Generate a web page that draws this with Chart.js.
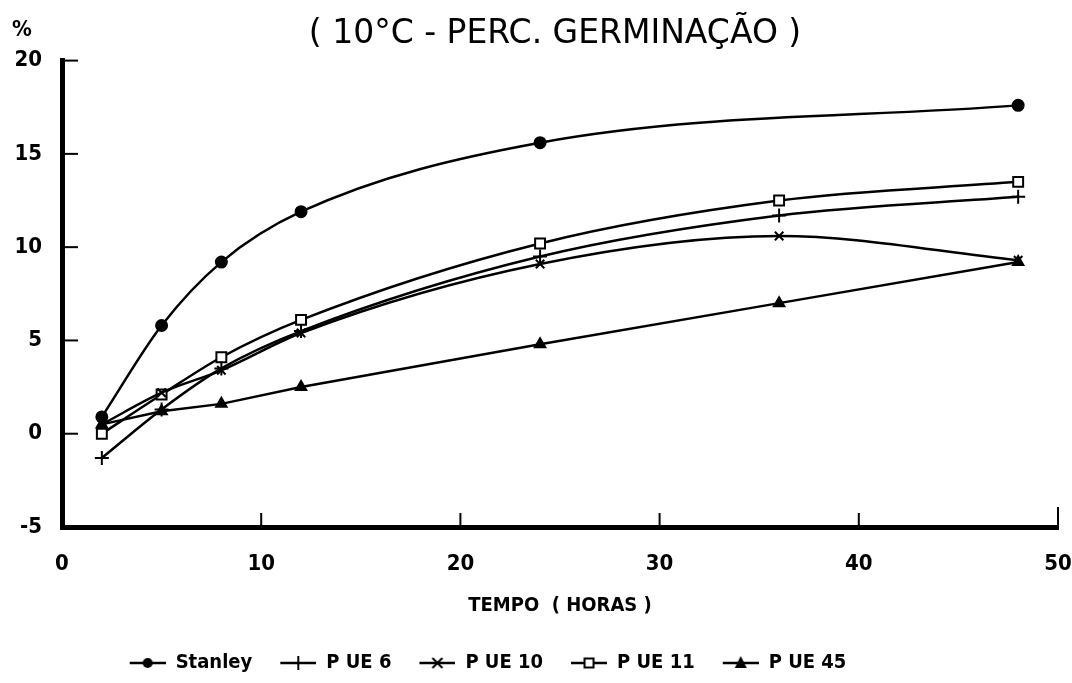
<!DOCTYPE html>
<html>
<head>
<meta charset="utf-8">
<script src="https://cdn.jsdelivr.net/npm/chart.js@4.4.0/dist/chart.umd.min.js"></script>
<style>
  html, body { margin: 0; padding: 0; background: #fff; }
</style>
</head>
<body>
<canvas id="germChart" width="1072" height="683"></canvas>
<script>
// Tempo (horas)
const horas = [2, 5, 8, 12, 24, 36, 48];

// Germinacao (%) por cultivar
const stanley = [0.9, 5.8, 9.2, 11.9, 15.6, null, 17.6];
const pue6 = [-1.3, 1.3, 3.5, 5.5, 9.5, 11.7, 12.7];
const pue10 = [0.5, 2.2, 3.4, 5.4, 9.1, 10.6, 9.3];
const pue11 = [0.0, 2.1, 4.1, 6.1, 10.2, 12.5, 13.5];
const pue45 = [0.5, 1.2, 1.6, 2.5, 4.8, 7.0, 9.2];

const xTicks = [0, 10, 20, 30, 40, 50];
const yTicks = [-5, 0, 5, 10, 15, 20];

const FONT = "'Liberation Sans Narrow', 'DejaVu Sans Condensed', sans-serif";

function pts(arr) {
    return horas.map((h, i) => ({ x: h, y: arr[i] }));
}

// legend symbol: line with marker in the middle
function legendIcon(style) {
    const c = document.createElement('canvas');
    c.width = 54; c.height = 18;
    const g = c.getContext('2d');
    g.strokeStyle = '#000';
    g.fillStyle = '#000';
    g.lineWidth = 2.5;
    g.beginPath(); g.moveTo(18, 9); g.lineTo(54, 9); g.stroke();
    const cx = 36, cy = 9;
    g.lineWidth = 2;
    g.beginPath();
    if (style === 'circle') {
        g.arc(cx, cy, 5, 0, Math.PI * 2); g.fill();
    } else if (style === 'cross') {
        g.moveTo(cx, cy - 7); g.lineTo(cx, cy + 7); g.stroke();
    } else if (style === 'crossRot') {
        g.moveTo(cx - 5, cy - 5); g.lineTo(cx + 5, cy + 5);
        g.moveTo(cx + 5, cy - 5); g.lineTo(cx - 5, cy + 5); g.stroke();
    } else if (style === 'rect') {
        g.fillStyle = '#fff';
        g.rect(cx - 4.5, cy - 4.5, 9, 9); g.fill(); g.stroke();
    } else if (style === 'triangle') {
        g.moveTo(cx, cy - 7); g.lineTo(cx + 6, cy + 5); g.lineTo(cx - 6, cy + 5);
        g.closePath(); g.fill();
    }
    return c;
}

function serie(label, arr, style, radius, smooth, fill) {
    return {
        label: label,
        data: pts(arr),
        borderColor: '#000',
        borderWidth: 2.5,
        pointStyle: style,
        pointRadius: radius,
        pointBorderWidth: 2,
        pointBorderColor: '#000',
        pointBackgroundColor: fill,
        cubicInterpolationMode: smooth ? 'monotone' : 'default',
        tension: 0,
        spanGaps: true,
        fill: false
    };
}

const styles = ['circle', 'cross', 'crossRot', 'rect', 'triangle'];
const icons = styles.map(legendIcon);

// inward ticks, % label, legend/title nudge
const extras = {
    id: 'extras',
    afterLayout(chart) {
        chart.legend.right -= 100;
        chart.titleBlock.left += 26;
        chart.titleBlock.right += 26;
    },
    afterDraw(chart) {
        const { ctx, scales: { x, y } } = chart;
        ctx.save();
        ctx.strokeStyle = '#000';
        ctx.lineWidth = 2;
        const x0 = x.getPixelForValue(0);
        const yb = y.getPixelForValue(-5);
        xTicks.slice(1).forEach(v => {
            const px = x.getPixelForValue(v);
            ctx.beginPath();
            ctx.moveTo(px, yb);
            ctx.lineTo(px, yb - (v === 50 ? 20 : 14));
            ctx.stroke();
        });
        yTicks.slice(1).forEach(v => {
            const py = y.getPixelForValue(v);
            ctx.beginPath();
            ctx.moveTo(x0, py);
            ctx.lineTo(x0 + 16, py);
            ctx.stroke();
        });
        ctx.fillStyle = '#000';
        ctx.font = 'bold 22px ' + FONT;
        ctx.textBaseline = 'middle';
        ctx.fillText('%', 12, 30);
        ctx.restore();
    }
};

new Chart(document.getElementById('germChart'), {
    type: 'line',
    data: {
        datasets: [
            serie('Stanley', stanley, 'circle', 5.5, true, '#000'),
            serie('P UE 6', pue6, 'cross', 7, true, '#000'),
            serie('P UE 10', pue10, 'crossRot', 6, true, '#000'),
            serie('P UE 11', pue11, 'rect', 7, true, '#fff'),
            serie('P UE 45', pue45, 'triangle', 6, false, '#000')
        ]
    },
    options: {
        responsive: false,
        animation: false,
        layout: { padding: { left: 0, right: 14, top: 0, bottom: 0 } },
        plugins: {
            title: {
                display: true,
                text: '( 10°C - PERC. GERMINAÇÃO )',
                color: '#000',
                font: { family: "'DejaVu Sans', sans-serif", size: 33, weight: 'normal' },
                padding: { top: 15, bottom: 6 }
            },
            legend: {
                position: 'bottom',
                labels: {
                    color: '#000',
                    font: { family: FONT, size: 20, weight: 'bold' },
                    usePointStyle: true,
                    pointStyleWidth: 54,
                    padding: 10,
                    generateLabels(chart) {
                        return Chart.defaults.plugins.legend.labels.generateLabels(chart)
                            .map((it, i) => Object.assign(it, { pointStyle: icons[i] }));
                    }
                }
            },
            tooltip: { enabled: false }
        },
        scales: {
            x: {
                type: 'linear',
                min: 0,
                max: 50,
                afterBuildTicks: s => { s.ticks = xTicks.map(v => ({ value: v })); },
                afterFit: s => { s.height = 116; s.paddingRight = 0; s.paddingLeft = 0; },
                grid: { drawOnChartArea: false, drawTicks: false },
                border: { display: true, width: 5, color: '#000' },
                ticks: {
                    color: '#000',
                    padding: 24,
                    maxRotation: 0,
                    font: { family: FONT, size: 22, weight: 'bold' }
                },
                title: {
                    display: true,
                    text: 'TEMPO  ( HORAS )',
                    color: '#000',
                    font: { family: FONT, size: 20, weight: 'bold' },
                    padding: { top: 0, bottom: 25 }
                }
            },
            y: {
                min: -5,
                max: 20,
                afterBuildTicks: s => { s.ticks = yTicks.map(v => ({ value: v })); },
                afterFit: s => { s.width = 62; },
                grid: { drawOnChartArea: false, drawTicks: false },
                border: { display: true, width: 5, color: '#000' },
                ticks: {
                    color: '#000',
                    padding: 20,
                    font: { family: FONT, size: 22, weight: 'bold' }
                }
            }
        }
    },
    plugins: [extras]
});
</script>
</body>
</html>
